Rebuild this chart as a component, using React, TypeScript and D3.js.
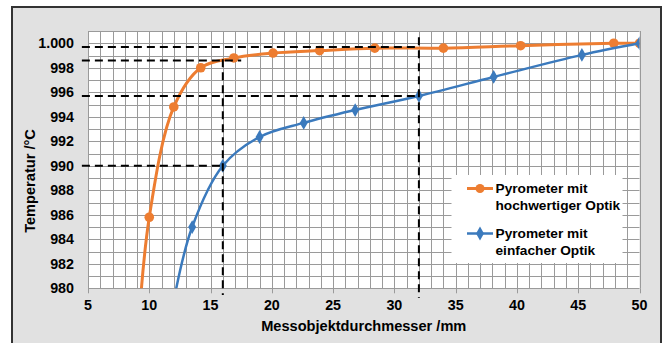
import React from 'react'
import * as d3 from 'd3'

const hochX = [9, 10, 12, 14.2, 16.9, 20.1, 23.9, 28.4, 34, 40.3, 47.9, 50]
const hochY = [975, 985.8, 994.8, 998.0, 998.8, 999.2, 999.4, 999.6, 999.6, 999.8, 1000, 1000]
const einfX = [12, 13.5, 16, 19, 22.6, 26.8, 32, 38.1, 45.3, 50]
const einfY = [979, 985, 990, 992.35, 993.5, 994.55, 995.7, 997.25, 999.05, 1000]

const xTicks = [5, 10, 15, 20, 25, 30, 35, 40, 45, 50]
const yTicks = [980, 982, 984, 986, 988, 990, 992, 994, 996, 998, 1000]
const yTickLabels = ['980', '982', '984', '986', '988', '990', '992', '994', '996', '998', '1.000']

// Hilfslinien (gestrichelt) in Datenkoordinaten
const refX1 = [4.5, 4.5, 4.5, 4.5, 16, 32]
const refY1 = [999.7, 998.6, 995.7, 990, 998.7, 1000.5]
const refX2 = [32, 17.5, 32, 16, 16, 32]
const refY2 = [999.7, 998.6, 995.7, 990, 979.45, 979.2]

const seriesNames = [['Pyrometer mit', 'hochwertiger Optik'], ['Pyrometer mit', 'einfacher Optik']]

const ORANGE = '#ED7D31'
const BLUE = '#3B7ABD'
const FONT = '"Liberation Sans", Arial, sans-serif'

export default function App() {
  const W = 667, H = 343
  const x = d3.scaleLinear().domain([5, 50]).range([88, 639.5])
  const y = d3.scaleLinear().domain([980, 1001]).range([288.3, 31])

  const hoch = hochX.map((v, i) => [v, hochY[i]] as [number, number])
  const einf = einfX.map((v, i) => [v, einfY[i]] as [number, number])

  const line = d3.line<[number, number]>()
    .x(d => x(d[0]))
    .y(d => y(d[1]))
    .curve(d3.curveCatmullRom.alpha(0.5))

  const crisp = (v: number) => Math.round(v) + 0.5
  const gridX = d3.range(5, 51, 1)
  const gridY = d3.range(980, 1002, 1)
  const diamond = d3.symbol().type(d3.symbolDiamond).size(55)()

  const [px0, px1] = x.range()
  const [py0, py1] = y.range()

  return (
    <svg width={W} height={H} style={{ position: 'absolute', left: 0, top: 0 }} fontFamily={FONT}>
      <defs>
        <clipPath id="plotClip">
          <rect x={px0} y={py1} width={px1 - px0} height={py0 - py1} />
        </clipPath>
      </defs>
      <rect x={0} y={0} width={W} height={H} fill="#fff" />
      <rect x={12} y={7} width={649} height={H} fill="#e1e1e1" stroke="#333" strokeWidth={2} />
      <rect x={px0} y={py1} width={px1 - px0} height={py0 - py1} fill="#fff" />

      {gridX.map(v => (
        <line key={'gx' + v} x1={crisp(x(v))} x2={crisp(x(v))} y1={py1} y2={py0}
          stroke="#9a9a9a" strokeWidth={1} />
      ))}
      {gridY.map(v => (
        <line key={'gy' + v} x1={px0} x2={px1} y1={crisp(y(v))} y2={crisp(y(v))}
          stroke="#9a9a9a" strokeWidth={1} />
      ))}
      {xTicks.map(v => (
        <line key={'xt' + v} x1={crisp(x(v))} x2={crisp(x(v))} y1={py0} y2={py0 + 5}
          stroke="#9a9a9a" strokeWidth={1} />
      ))}

      {/* Legende */}
      <rect x={451.5} y={175} width={171} height={88} fill="#fff" />

      <g clipPath="url(#plotClip)">
        <path d={line(hoch) || ''} fill="none" stroke={ORANGE} strokeWidth={3} />
        {hoch.map((d, i) => (
          <circle key={'h' + i} cx={x(d[0])} cy={y(d[1])} r={4.8} fill={ORANGE} />
        ))}
        <path d={line(einf) || ''} fill="none" stroke={BLUE} strokeWidth={2.5} />
        {einf.map((d, i) => (
          <path key={'e' + i} d={diamond || ''} transform={`translate(${x(d[0])},${y(d[1])})`} fill={BLUE} />
        ))}
      </g>

      {refX1.map((v, i) => (
        <line key={'ref' + i} x1={x(v)} y1={y(refY1[i])} x2={x(refX2[i])} y2={y(refY2[i])}
          stroke="#000" strokeWidth={2} strokeDasharray="8,5" />
      ))}

      {yTicks.map((v, i) => (
        <text key={'yl' + v} x={74} y={y(v)} dy="0.35em" textAnchor="end"
          fontSize={14.3} fontWeight="bold" fill="#000">{yTickLabels[i]}</text>
      ))}
      {xTicks.map(v => (
        <text key={'xl' + v} x={x(v)} y={310} textAnchor="middle"
          fontSize={14.3} fontWeight="bold" fill="#000">{v}</text>
      ))}

      <text x={(px0 + px1) / 2} y={331} textAnchor="middle" fontSize={14.6} fontWeight="bold">
        Messobjektdurchmesser /mm
      </text>
      <text transform="translate(35,181) rotate(-90)" textAnchor="middle" fontSize={14.6} fontWeight="bold">
        Temperatur /°C
      </text>

      {seriesNames.map((lines, i) => {
        const ly = i === 0 ? 188.5 : 233.5
        const col = i === 0 ? ORANGE : BLUE
        return (
          <g key={'lg' + i}>
            <line x1={467} x2={493} y1={ly} y2={ly} stroke={col} strokeWidth={i === 0 ? 3 : 2.5} />
            {i === 0
              ? <circle cx={480} cy={ly} r={4.5} fill={col} />
              : <path d={diamond || ''} transform={`translate(480,${ly})`} fill={col} />}
            {lines.map((t, j) => (
              <text key={j} x={495.5} y={ly + 4.5 + j * 16.5} fontSize={13.7} fontWeight="bold">{t}</text>
            ))}
          </g>
        )
      })}
    </svg>
  )
}
